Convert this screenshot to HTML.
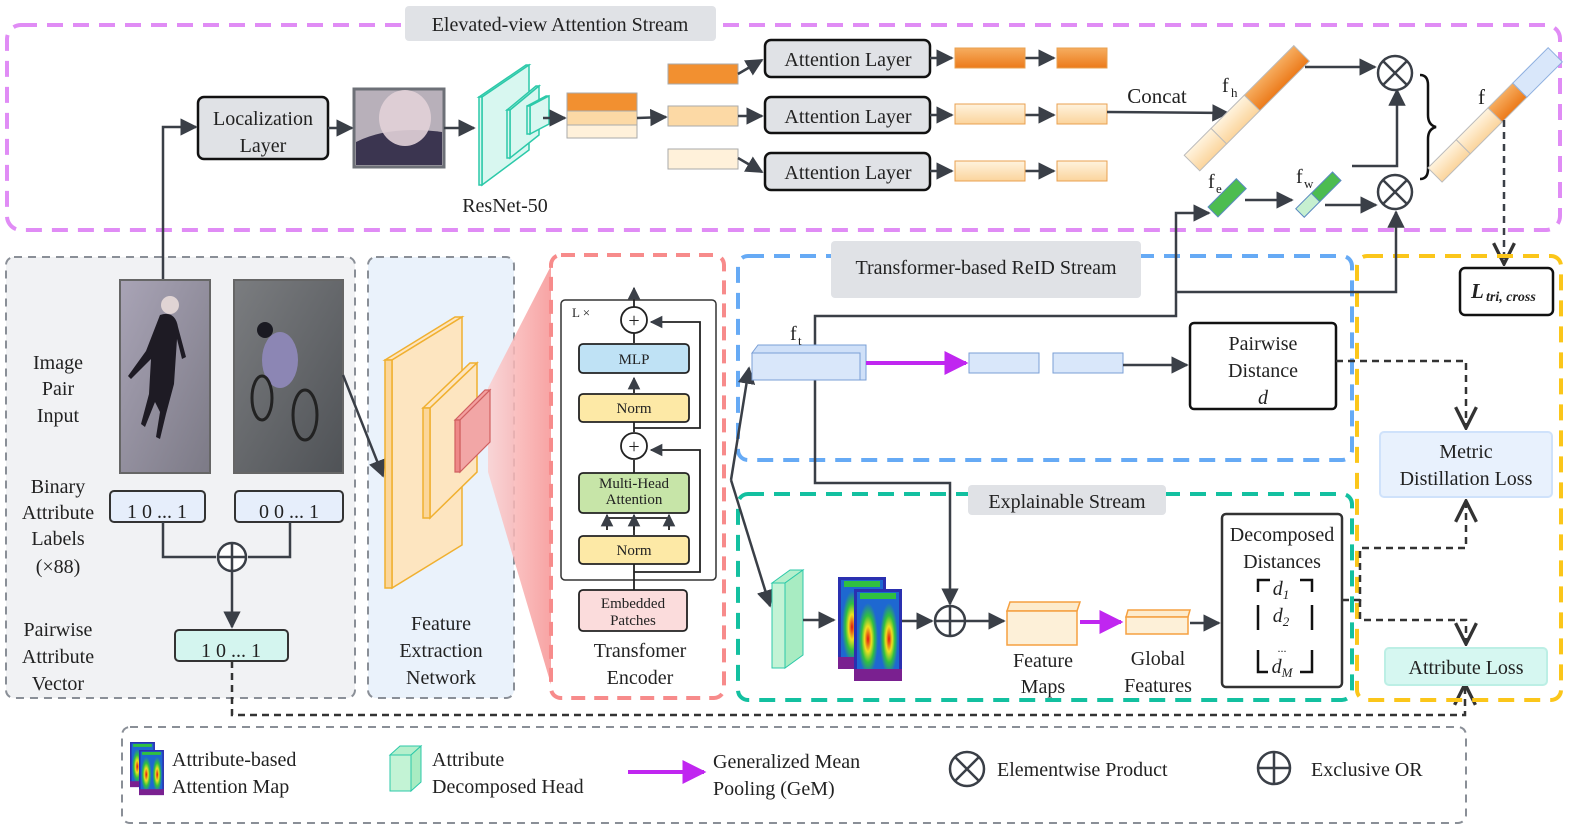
<!DOCTYPE html>
<html><head><meta charset="utf-8"><style>
body{margin:0;background:#fff}
svg{display:block}
text{font-family:"Liberation Serif",serif;fill:#222}
</style></head><body>
<svg width="1577" height="833" viewBox="0 0 1577 833" xmlns="http://www.w3.org/2000/svg">
<defs>
<marker id="a" viewBox="0 0 10 10" refX="9" refY="5" markerWidth="7" markerHeight="7" orient="auto"><path d="M0,0L10,5L0,10z" fill="#3a3f47"/></marker>
<marker id="ap" viewBox="0 0 10 10" refX="9" refY="5" markerWidth="6" markerHeight="6" orient="auto"><path d="M0,0L10,5L0,10z" fill="#c026f0"/></marker>
<marker id="ao" viewBox="0 0 12 12" refX="11" refY="6" markerWidth="10" markerHeight="10" orient="auto"><path d="M1,1L11,6L1,11" fill="none" stroke="#333" stroke-width="1.6"/></marker>
<linearGradient id="fun2" x1="0" x2="1"><stop offset="0" stop-color="#fbd0d0"/><stop offset="1" stop-color="#f69090"/></linearGradient>
<linearGradient id="p1" x1="0" y1="0" x2="1" y2="1"><stop offset="0" stop-color="#a9a4b6"/><stop offset="1" stop-color="#7c7a86"/></linearGradient>
<linearGradient id="p2" x1="0" y1="0" x2="1" y2="1"><stop offset="0" stop-color="#7b7d80"/><stop offset="1" stop-color="#4f5256"/></linearGradient>
<radialGradient id="blob" cx=".5" cy=".5" r=".5"><stop offset="0" stop-color="#e01010"/><stop offset=".35" stop-color="#f0e020"/><stop offset=".65" stop-color="#30c040"/><stop offset="1" stop-color="#30c040" stop-opacity="0"/></radialGradient>
<linearGradient id="or" x1="0" y1="0" x2="0" y2="1"><stop offset="0" stop-color="#f6ad60"/><stop offset="1" stop-color="#ec7a1a"/></linearGradient>
<linearGradient id="lo" x1="0" y1="0" x2="0" y2="1"><stop offset="0" stop-color="#fff3de"/><stop offset="1" stop-color="#fbd49c"/></linearGradient>
<g id="hmap">
<rect width="48" height="92" fill="#2a30b0"/>
<rect x="3" y="3" width="42" height="86" fill="#1a80e0" opacity=".7"/>
<ellipse cx="14" cy="50" rx="10" ry="36" fill="url(#blob)"/>
<ellipse cx="35" cy="50" rx="9" ry="36" fill="url(#blob)"/>
<rect x="6" y="4" width="36" height="6" fill="#30c040"/>
<rect x="0" y="80" width="48" height="12" fill="#7a2090"/>
</g>
</defs>

<rect x="6" y="257" width="349" height="441" rx="8" fill="#f1f2f4" stroke="#8a8f97" stroke-width="2" stroke-dasharray="8,6"/>
<rect x="368" y="257" width="146" height="441" rx="8" fill="#eaf2fb" stroke="#8a8f97" stroke-width="2" stroke-dasharray="8,6"/>
<polygon points="488,388 555,258 555,698 488,472" fill="url(#fun2)" opacity=".85"/>

<rect x="7" y="25" width="1553" height="205" rx="14" fill="none" stroke="#e08cf5" stroke-width="4" stroke-dasharray="16,10"/>
<rect x="405" y="6" width="311" height="35" rx="4" fill="#e0e2e6"/>
<text x="560" y="31" font-size="20" text-anchor="middle">Elevated-view Attention Stream</text>

<rect x="198" y="97" width="130" height="62" rx="6" fill="#e0e2e6" stroke="#111" stroke-width="2.5"/>
<text x="263" y="125" font-size="20" text-anchor="middle">Localization</text>
<text x="263" y="152" font-size="20" text-anchor="middle">Layer</text>
<rect x="354" y="89" width="90" height="78" fill="#b8b0ba" stroke="#6d7077" stroke-width="3"/>
<path d="M356,142 Q390,125 442,132 L442,165 L356,165z" fill="#3b3550"/>
<ellipse cx="405" cy="118" rx="26" ry="28" fill="#e2d2d8" opacity=".9"/>
<path d="M163,280 V127 H196" fill="none" stroke="#3a3f47" stroke-width="2.5" marker-end="url(#a)"/>
<line x1="328" y1="128" x2="352" y2="128" stroke="#3a3f47" stroke-width="2.5" marker-end="url(#a)"/>
<line x1="444" y1="128" x2="474" y2="128" stroke="#3a3f47" stroke-width="2.5" marker-end="url(#a)"/>
<g fill="#d8f7f0" stroke="#2cc9a9" stroke-width="1.5">
<polygon points="479,97 526,65 529,65 482,97"/>
<polygon points="482,97 529,65 529,150 482,185"/>
<polygon points="479,97 482,97 482,185 479,185"/>
<polygon points="507,110 536,86 539,86 510,110"/><polygon points="510,110 539,86 539,135 510,158"/><polygon points="507,110 510,110 510,158 507,158"/>
<polygon points="527,106 546,96 549,96 530,106"/><polygon points="530,106 549,96 549,124 530,134"/><polygon points="527,106 530,106 530,134 527,134"/>
</g>
<text x="505" y="212" font-size="20" text-anchor="middle">ResNet-50</text>
<line x1="543" y1="118" x2="565" y2="118" stroke="#3a3f47" stroke-width="2.5" marker-end="url(#a)"/>
<rect x="567" y="93" width="70" height="18" fill="#f29030" stroke="#aaa"/>
<rect x="567" y="111" width="70" height="14" fill="#fcd9a5" stroke="#aaa"/>
<rect x="567" y="125" width="70" height="13" fill="#fff1da" stroke="#aaa"/>
<line x1="637" y1="118" x2="666" y2="117" stroke="#3a3f47" stroke-width="2.5" marker-end="url(#a)"/>
<g stroke="#aaa">
<rect x="668" y="64" width="70" height="20" fill="#f29030"/>
<rect x="668" y="106" width="70" height="20" fill="#fcd9a5"/>
<rect x="668" y="149" width="70" height="20" fill="#fff1da"/>
</g>
<g stroke="#3a3f47" stroke-width="2.5" fill="none">
<line x1="738" y1="74" x2="762" y2="60" marker-end="url(#a)"/>
<line x1="738" y1="116" x2="762" y2="116" marker-end="url(#a)"/>
<line x1="738" y1="158" x2="762" y2="172" marker-end="url(#a)"/>
</g>
<g fill="#e0e2e6" stroke="#111" stroke-width="2.5">
<rect x="765" y="40" width="165" height="37" rx="6"/><rect x="765" y="97" width="165" height="36" rx="6"/><rect x="765" y="153" width="165" height="37" rx="6"/>
</g>
<g font-size="20" text-anchor="middle"><text x="848" y="66">Attention Layer</text><text x="848" y="123">Attention Layer</text><text x="848" y="179">Attention Layer</text></g>
<g stroke="#3a3f47" stroke-width="2.5"><line x1="930" y1="58" x2="952" y2="58" marker-end="url(#a)"/><line x1="930" y1="115" x2="952" y2="115" marker-end="url(#a)"/><line x1="930" y1="171" x2="952" y2="171" marker-end="url(#a)"/>
<line x1="1025" y1="58" x2="1054" y2="58" marker-end="url(#a)"/><line x1="1025" y1="115" x2="1054" y2="115" marker-end="url(#a)"/><line x1="1025" y1="171" x2="1054" y2="171" marker-end="url(#a)"/></g>
<g stroke="#e8a050">
<rect x="955" y="48" width="70" height="20" fill="url(#or)"/><rect x="955" y="104" width="70" height="20" fill="url(#lo)"/><rect x="955" y="161" width="70" height="20" fill="url(#lo)"/>
<rect x="1057" y="48" width="50" height="20" fill="url(#or)"/><rect x="1057" y="104" width="50" height="20" fill="url(#lo)"/><rect x="1057" y="161" width="50" height="20" fill="url(#lo)"/>
</g>
<text x="1157" y="103" font-size="21" text-anchor="middle">Concat</text>
<line x1="1107" y1="112" x2="1228" y2="113" stroke="#3a3f47" stroke-width="2.5" marker-end="url(#a)"/>
<g transform="translate(1192,163) rotate(-45)">
<rect x="0" y="-11" width="38" height="22" fill="url(#lo)" stroke="#bbb"/><rect x="38" y="-11" width="47" height="22" fill="url(#lo)" stroke="#bbb"/><rect x="85" y="-11" width="70" height="22" fill="url(#or)" stroke="#bbb"/>
</g>
<text x="1222" y="92" font-size="20">f</text><text x="1231" y="97" font-size="13">h</text>
<line x1="1305" y1="67" x2="1375" y2="67" stroke="#3a3f47" stroke-width="2.5" marker-end="url(#a)"/>
<g transform="translate(1213,212) rotate(-45)"><rect x="0" y="-7" width="40" height="14" fill="#4cbc50" stroke="#5a8ac0"/></g>
<text x="1208" y="188" font-size="20">f</text><text x="1216" y="193" font-size="13">e</text>
<line x1="1245" y1="200" x2="1292" y2="200" stroke="#3a3f47" stroke-width="2.5" marker-end="url(#a)"/>
<g transform="translate(1300,213) rotate(-45)"><rect x="0" y="-6" width="22" height="12" fill="#c6f0d0" stroke="#5a8ac0"/><rect x="22" y="-6" width="30" height="12" fill="#4cbc50" stroke="#5a8ac0"/></g>
<text x="1296" y="183" font-size="20">f</text><text x="1304" y="188" font-size="13">w</text>
<path d="M1352,166 H1397 V90" fill="none" stroke="#3a3f47" stroke-width="2.5" marker-end="url(#a)"/>
<line x1="1325" y1="205" x2="1376" y2="205" stroke="#3a3f47" stroke-width="2.5" marker-end="url(#a)"/>
<g fill="#fff" stroke="#3a3f47" stroke-width="2.5">
<circle cx="1395" cy="73" r="17"/><circle cx="1395" cy="192" r="17"/></g>
<g stroke="#3a3f47" stroke-width="2.5"><line x1="1383" y1="61" x2="1407" y2="85"/><line x1="1407" y1="61" x2="1383" y2="85"/><line x1="1383" y1="180" x2="1407" y2="204"/><line x1="1407" y1="180" x2="1383" y2="204"/></g>
<path d="M1420,75 q8,0 8,10 v30 q0,10 8,12 q-8,2 -8,12 v30 q0,10 -8,10" fill="none" stroke="#111" stroke-width="2.5"/>
<g transform="translate(1435,175) rotate(-45)">
<rect x="0" y="-10" width="40" height="20" fill="url(#lo)" stroke="#bbb"/><rect x="40" y="-10" width="45" height="20" fill="url(#lo)" stroke="#bbb"/><rect x="85" y="-10" width="35" height="20" fill="url(#or)" stroke="#bbb"/><rect x="120" y="-10" width="50" height="20" fill="#d9e7fa" stroke="#8fb0e0"/>
</g>
<text x="1478" y="104" font-size="21">f</text>
<line x1="1504" y1="120" x2="1504" y2="264" stroke="#3a3f47" stroke-width="2.5" stroke-dasharray="7,5" marker-end="url(#ao)"/>
<rect x="1460" y="268" width="93" height="47" rx="5" fill="#fff" stroke="#111" stroke-width="2.5"/>
<text x="1471" y="298" font-size="21" font-style="italic" font-weight="bold">L</text><text x="1486" y="301" font-size="14" font-style="italic" font-weight="bold">tri, cross</text>

<rect x="120" y="280" width="90" height="193" fill="url(#p1)" stroke="#666" stroke-width="2"/>
<path d="M160,315 q15,-5 18,12 l8,30 l-4,2 l-5,-20 l-3,45 l-8,30 l-6,25 l-4,-2 l4,-25 l-5,-10 l-10,25 l-4,-3 l8,-30 l2,-35 l-20,20 l-3,-3 l18,-25z" fill="#1e1b24"/>
<circle cx="170" cy="305" r="9" fill="#e0d4d4"/>
<rect x="234" y="280" width="109" height="193" fill="url(#p2)" stroke="#666" stroke-width="2"/>
<ellipse cx="280" cy="360" rx="18" ry="28" fill="#8c86b4"/><circle cx="265" cy="330" r="8" fill="#1a1a22"/>
<ellipse cx="262" cy="398" rx="10" ry="22" fill="none" stroke="#222" stroke-width="3"/><ellipse cx="305" cy="415" rx="12" ry="25" fill="none" stroke="#222" stroke-width="3"/>
<g font-size="20" text-anchor="middle">
<text x="58" y="369">Image</text><text x="58" y="395">Pair</text><text x="58" y="422">Input</text>
<text x="58" y="493">Binary</text><text x="58" y="519">Attribute</text><text x="58" y="545">Labels</text><text x="58" y="573">(×88)</text>
<text x="58" y="636">Pairwise</text><text x="58" y="663">Attribute</text><text x="58" y="690">Vector</text>
</g>
<rect x="110" y="491" width="95" height="31" rx="4" fill="#e6eefb" stroke="#333" stroke-width="2"/>
<rect x="235" y="491" width="108" height="31" rx="4" fill="#e6eefb" stroke="#333" stroke-width="2"/>
<text x="157" y="518" font-size="20" text-anchor="middle">1 0  ... 1</text><text x="289" y="518" font-size="20" text-anchor="middle">0 0 ... 1</text>
<path d="M163,522 V557 H216 M290,522 V557 H248" fill="none" stroke="#3a3f47" stroke-width="2.5"/>
<circle cx="232" cy="557" r="14" fill="#fff" stroke="#3a3f47" stroke-width="2.5"/><path d="M218,557h28M232,543v28" stroke="#3a3f47" stroke-width="2.5"/>
<line x1="232" y1="571" x2="232" y2="627" stroke="#3a3f47" stroke-width="2.5" marker-end="url(#a)"/>
<rect x="175" y="630" width="113" height="31" rx="4" fill="#d4f5ef" stroke="#333" stroke-width="2"/>
<text x="231" y="657" font-size="20" text-anchor="middle">1 0  ... 1</text>
<path d="M232,661 V715 H1465 V684" fill="none" stroke="#333" stroke-width="2.5" stroke-dasharray="7,5" marker-end="url(#ao)"/>
<line x1="343" y1="375" x2="383" y2="476" stroke="#3a3f47" stroke-width="2.5" marker-end="url(#a)"/>

<g stroke="#f0b030" stroke-width="1.5" fill="#fde5c0">
<polygon points="385,360 455,317 462,317 392,360"/><polygon points="392,360 462,317 462,545 392,588"/><polygon points="385,360 392,360 392,588 385,588" fill="#fbd69a"/>
<polygon points="423,408 470,363 477,363 430,408"/><polygon points="430,408 477,363 477,472 430,518"/><polygon points="423,408 430,408 430,518 423,518" fill="#fbd69a"/>
</g>
<g stroke="#d06060" stroke-width="1.2"><polygon points="455,420 485,390 490,390 460,420" fill="#f4a0a0"/><polygon points="460,420 490,390 490,442 460,472" fill="#f2a6a6"/><polygon points="455,420 460,420 460,472 455,472" fill="#e88"/></g>
<g font-size="20" text-anchor="middle"><text x="441" y="630">Feature</text><text x="441" y="657">Extraction</text><text x="441" y="684">Network</text></g>

<rect x="551" y="255" width="173" height="443" rx="10" fill="#fff" stroke="#f78b8b" stroke-width="4" stroke-dasharray="14,9"/>
<rect x="561" y="300" width="155" height="280" rx="4" fill="#fff" stroke="#333" stroke-width="1.5"/>
<text x="572" y="317" font-size="13">L ×</text>
<g stroke="#222" stroke-width="1.8" fill="none">
<line x1="634" y1="590" x2="634" y2="564"/><line x1="634" y1="535" x2="634" y2="523"/><line x1="634" y1="473" x2="634" y2="460"/><line x1="634" y1="420" x2="634" y2="432" /><line x1="634" y1="343" x2="634" y2="332"/>
<line x1="634" y1="393" x2="634" y2="378" marker-end="url(#a)"/><line x1="634" y1="308" x2="634" y2="288" marker-end="url(#a)"/>
<path d="M634,572 H700 V450 H651" marker-end="url(#a)"/><path d="M634,428 H700 V322 H651" marker-end="url(#a)"/>
<path d="M607,530 V518 H669 V530 M634,530 V516"/>
<line x1="607" y1="527" x2="607" y2="515" marker-end="url(#a)"/><line x1="634" y1="527" x2="634" y2="515" marker-end="url(#a)"/><line x1="669" y1="527" x2="669" y2="515" marker-end="url(#a)"/>
</g>
<g fill="#fff" stroke="#222" stroke-width="1.8"><circle cx="634" cy="320" r="13"/><circle cx="634" cy="446" r="13"/></g>
<g font-size="20" text-anchor="middle"><text x="634" y="327">+</text><text x="634" y="453">+</text></g>
<rect x="579" y="344" width="110" height="29" rx="4" fill="#bfe2f5" stroke="#222" stroke-width="1.8"/>
<rect x="579" y="394" width="110" height="28" rx="4" fill="#fde9a6" stroke="#222" stroke-width="1.8"/>
<rect x="579" y="473" width="110" height="40" rx="4" fill="#c7e5a8" stroke="#222" stroke-width="1.8"/>
<rect x="579" y="536" width="110" height="28" rx="4" fill="#fde9a6" stroke="#222" stroke-width="1.8"/>
<rect x="579" y="590" width="108" height="41" rx="4" fill="#fbdcdc" stroke="#222" stroke-width="1.8"/>
<g font-size="15" text-anchor="middle"><text x="634" y="364">MLP</text><text x="634" y="413">Norm</text><text x="634" y="488">Multi-Head</text><text x="634" y="504">Attention</text><text x="634" y="555">Norm</text><text x="633" y="608">Embedded</text><text x="633" y="625">Patches</text></g>
<g font-size="20" text-anchor="middle"><text x="640" y="657">Transfomer</text><text x="640" y="684">Encoder</text></g>

<rect x="738" y="256" width="614" height="204" rx="10" fill="none" stroke="#66aaf5" stroke-width="4" stroke-dasharray="16,10"/>
<rect x="831" y="241" width="310" height="57" rx="4" fill="#e0e2e6"/>
<text x="986" y="274" font-size="20" text-anchor="middle">Transformer-based ReID Stream</text>
<rect x="738" y="494" width="614" height="206" rx="10" fill="none" stroke="#13c0a0" stroke-width="4" stroke-dasharray="16,10"/>
<rect x="968" y="485" width="198" height="30" rx="4" fill="#e0e2e6"/>
<text x="1067" y="508" font-size="20" text-anchor="middle">Explainable Stream</text>
<rect x="1357" y="256" width="204" height="444" rx="10" fill="none" stroke="#fbc61a" stroke-width="4" stroke-dasharray="16,10"/>

<g stroke="#3a3f47" stroke-width="2.5" fill="none">
<path d="M731,480 L749,368" marker-end="url(#a)"/><path d="M731,480 L770,606" marker-end="url(#a)"/>
<path d="M815,345 V316 H1176 V213 H1209" marker-end="url(#a)"/>
<path d="M1176,292 H1396 V212" marker-end="url(#a)"/>
<path d="M815,380 V483 H950 V604" marker-end="url(#a)"/>
</g>
<polygon points="752,353 758,345 866,345 866,380 860,380 860,353" fill="#cfe0f8" stroke="#7a9fd6"/>
<rect x="752" y="353" width="108" height="27" fill="#d9e7fa" stroke="#7a9fd6"/>
<text x="790" y="340" font-size="20">f</text><text x="798" y="345" font-size="13">t</text>
<line x1="866" y1="363" x2="966" y2="363" stroke="#c026f0" stroke-width="4" marker-end="url(#ap)"/>
<rect x="969" y="353" width="70" height="20" fill="#d9e7fa" stroke="#7a9fd6"/><rect x="1053" y="353" width="70" height="20" fill="#d9e7fa" stroke="#7a9fd6"/>
<line x1="1123" y1="365" x2="1187" y2="365" stroke="#3a3f47" stroke-width="2.5" marker-end="url(#a)"/>
<rect x="1190" y="323" width="146" height="86" rx="4" fill="#fff" stroke="#111" stroke-width="2.5"/>
<g font-size="20" text-anchor="middle"><text x="1263" y="350">Pairwise</text><text x="1263" y="377">Distance</text><text x="1263" y="404" font-style="italic">d</text></g>

<polygon points="772,583 790,570 803,570 785,583" fill="#b5efcc" stroke="#2cc9a9"/>
<polygon points="785,583 803,570 803,655 785,668" fill="#a8ecc2" stroke="#2cc9a9"/>
<rect x="772" y="583" width="13" height="85" fill="#c3f3d5" stroke="#2cc9a9"/>
<line x1="803" y1="620" x2="834" y2="620" stroke="#3a3f47" stroke-width="2.5" marker-end="url(#a)"/>
<use href="#hmap" x="838" y="577"/>
<use href="#hmap" x="854" y="589"/>
<line x1="902" y1="621" x2="932" y2="621" stroke="#3a3f47" stroke-width="2.5" marker-end="url(#a)"/>
<circle cx="950" cy="621" r="15" fill="#fff" stroke="#3a3f47" stroke-width="2.5"/><path d="M935,621h30M950,606v30" stroke="#3a3f47" stroke-width="2.5"/>
<line x1="965" y1="621" x2="1004" y2="621" stroke="#3a3f47" stroke-width="2.5" marker-end="url(#a)"/>
<polygon points="1007,611 1010,602 1080,602 1077,611" fill="#fdebcc" stroke="#f5a040" stroke-width="1.5"/>
<rect x="1007" y="611" width="70" height="34" fill="#fdf0d8" stroke="#f5a040" stroke-width="1.5"/>
<line x1="1080" y1="622" x2="1121" y2="622" stroke="#c026f0" stroke-width="4" marker-end="url(#ap)"/>
<polygon points="1126,617 1128,610 1190,610 1188,617" fill="#fdebcc" stroke="#f5a040" stroke-width="1.5"/>
<rect x="1126" y="617" width="62" height="17" fill="#fdf0d8" stroke="#f5a040" stroke-width="1.5"/>
<line x1="1190" y1="623" x2="1219" y2="623" stroke="#3a3f47" stroke-width="2.5" marker-end="url(#a)"/>
<g font-size="20" text-anchor="middle"><text x="1043" y="667">Feature</text><text x="1043" y="693">Maps</text><text x="1158" y="665">Global</text><text x="1158" y="692">Features</text></g>
<rect x="1222" y="514" width="120" height="173" rx="4" fill="#fff" stroke="#333" stroke-width="2.5"/>
<g font-size="20" text-anchor="middle"><text x="1282" y="541">Decomposed</text><text x="1282" y="568">Distances</text></g>
<path d="M1258,592 V580 H1270 M1300,580 H1312 V592 M1258,605 V630 M1312,605 V630 M1258,650 V672 H1268 M1300,672 H1312 V650" fill="none" stroke="#111" stroke-width="2.5"/>
<g font-size="20" font-style="italic" text-anchor="middle"><text x="1281" y="595">d<tspan font-size="13" dy="4">1</tspan></text><text x="1281" y="622">d<tspan font-size="13" dy="4">2</tspan></text><text x="1282" y="652" font-size="12" font-style="normal">...</text><text x="1282" y="673">d<tspan font-size="13" dy="4">M</tspan></text></g>

<rect x="1380" y="432" width="172" height="65" rx="4" fill="#e8f1fd" stroke="#cfe2fb" stroke-width="2"/>
<g font-size="20" text-anchor="middle"><text x="1466" y="458">Metric</text><text x="1466" y="485">Distillation Loss</text></g>
<rect x="1385" y="648" width="162" height="37" rx="4" fill="#d6f7f1" stroke="#bcefe5" stroke-width="2"/>
<text x="1466" y="674" font-size="20" text-anchor="middle">Attribute  Loss</text>
<g stroke="#333" stroke-width="2.5" fill="none" stroke-dasharray="7,5">
<path d="M1336,361 H1466 V428" marker-end="url(#ao)"/>
<path d="M1342,600 H1360 V548 H1466 V501" marker-end="url(#ao)"/>
<path d="M1360,600 V620 H1466 V644" marker-end="url(#ao)"/>
</g>

<rect x="122" y="727" width="1344" height="96" rx="8" fill="none" stroke="#8a8f97" stroke-width="2" stroke-dasharray="8,6"/>
<use href="#hmap" transform="translate(130,742) scale(0.52,0.49)"/>
<use href="#hmap" transform="translate(139,750) scale(0.52,0.49)"/>
<g font-size="20"><text x="172" y="766">Attribute-based</text><text x="172" y="793">Attention Map</text>
<text x="432" y="766">Attribute</text><text x="432" y="793">Decomposed Head</text>
<text x="713" y="768">Generalized Mean</text><text x="713" y="795">Pooling (GeM)</text>
<text x="997" y="776">Elementwise Product</text><text x="1311" y="776">Exclusive OR</text></g>
<polygon points="390,755 400,746 421,746 411,755" fill="#b5efcc" stroke="#2cc9a9"/><rect x="390" y="755" width="21" height="36" fill="#c3f3d5" stroke="#2cc9a9"/><polygon points="411,755 421,746 421,782 411,791" fill="#a8ecc2" stroke="#2cc9a9"/>
<line x1="628" y1="772" x2="704" y2="772" stroke="#c026f0" stroke-width="4" marker-end="url(#ap)"/>
<circle cx="967" cy="769" r="17" fill="#fff" stroke="#3a3f47" stroke-width="2.5"/><path d="M955,757l24,24M979,757l-24,24" stroke="#3a3f47" stroke-width="2.5"/>
<circle cx="1274" cy="768" r="16" fill="#fff" stroke="#3a3f47" stroke-width="2.5"/><path d="M1258,768h32M1274,752v32" stroke="#3a3f47" stroke-width="2.5"/>
</svg>
</body></html>
